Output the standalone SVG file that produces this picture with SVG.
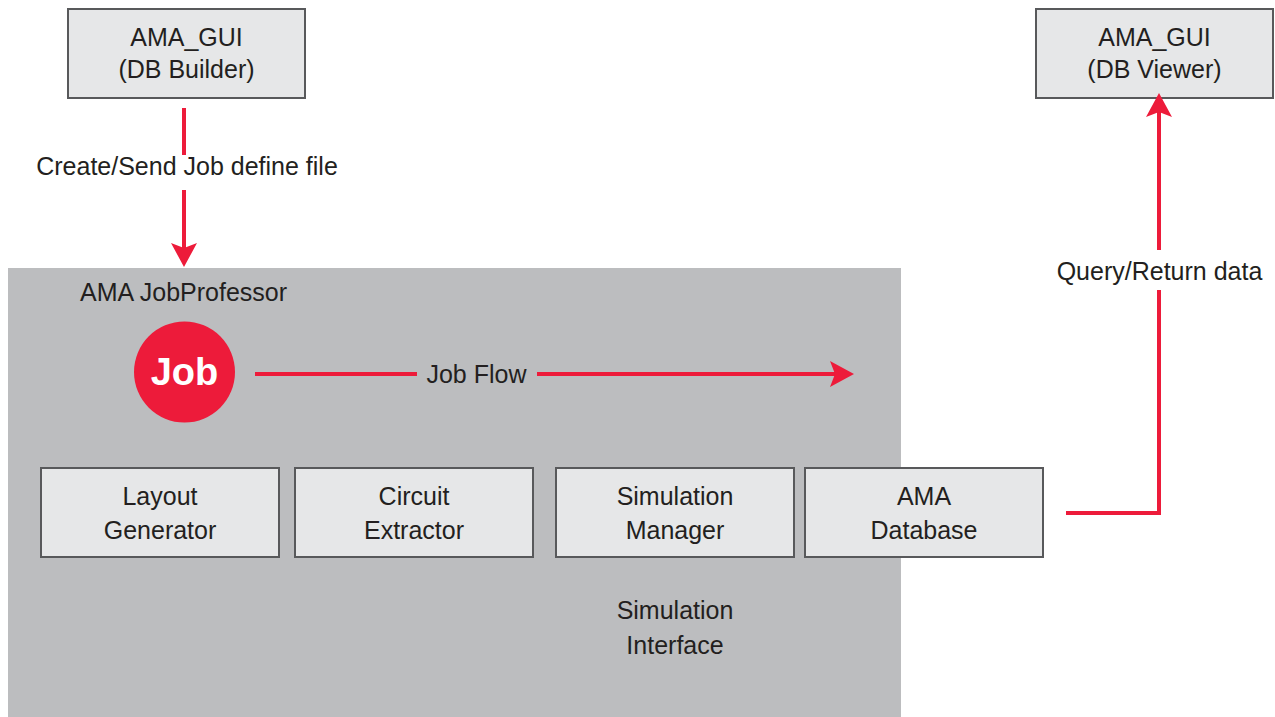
<svg xmlns="http://www.w3.org/2000/svg" width="1275" height="717" viewBox="0 0 1275 717">
<style>
.box{fill:#e6e7e8;stroke:#58595b;stroke-width:2}
.t{font-family:"Liberation Sans",Arial,sans-serif;font-size:25px;fill:#231f20;text-anchor:middle}
.c{fill:none;stroke:#ed1b3a;stroke-width:4}
</style>
<defs>
<marker id="ah" viewBox="0 -13 24 26" markerWidth="24" markerHeight="26" refX="5" refY="0" orient="auto" markerUnits="userSpaceOnUse">
<path d="M0,-13 L24,0 L0,13 L5,0 Z" fill="#ed1b3a"/>
</marker>
</defs>
<rect width="1275" height="717" fill="#ffffff"/>
<g id="jobprofessor">
<rect x="8" y="268" width="893" height="449" fill="#bcbdbf"/>
<text class="t" x="80" y="301" style="text-anchor:start">AMA JobProfessor</text>
</g>
<g id="db-builder">
<rect class="box" x="68" y="9" width="237" height="89"/>
<text class="t" x="186.5" y="46">AMA_GUI</text>
<text class="t" x="186.5" y="78">(DB Builder)</text>
</g>
<g id="db-viewer">
<rect class="box" x="1036" y="9" width="237" height="89"/>
<text class="t" x="1154.5" y="46">AMA_GUI</text>
<text class="t" x="1154.5" y="78">(DB Viewer)</text>
</g>
<g id="job">
<circle cx="184.5" cy="372" r="50.5" fill="#ed1b3a"/>
<text x="184.5" y="385" font-family="'Liberation Sans',Arial,sans-serif" font-size="38" font-weight="bold" fill="#ffffff" text-anchor="middle">Job</text>
</g>
<g id="layout-generator">
<rect class="box" x="41" y="468" width="238" height="89"/>
<text class="t" x="160" y="505">Layout</text>
<text class="t" x="160" y="539">Generator</text>
</g>
<g id="circuit-extractor">
<rect class="box" x="295" y="468" width="238" height="89"/>
<text class="t" x="414" y="505">Circuit</text>
<text class="t" x="414" y="539">Extractor</text>
</g>
<g id="simulation-manager">
<rect class="box" x="556" y="468" width="238" height="89"/>
<text class="t" x="675" y="505">Simulation</text>
<text class="t" x="675" y="539">Manager</text>
</g>
<g id="ama-database">
<rect class="box" x="805" y="468" width="238" height="89"/>
<text class="t" x="924" y="505">AMA</text>
<text class="t" x="924" y="539">Database</text>
</g>
<g id="simulation-interface">
<text class="t" x="675" y="619">Simulation</text>
<text class="t" x="675" y="654">Interface</text>
</g>
<g id="connectors">
<line class="c" x1="184" y1="108" x2="184" y2="155"/>
<line class="c" x1="184" y1="190" x2="184" y2="248" marker-end="url(#ah)"/>
<text class="t" x="187" y="175">Create/Send Job define file</text>
<line class="c" x1="255" y1="374" x2="417" y2="374"/>
<line class="c" x1="537" y1="374" x2="835" y2="374" marker-end="url(#ah)"/>
<text class="t" x="476.5" y="383">Job Flow</text>
<polyline class="c" points="1066,513 1159,513 1159,290"/>
<line class="c" x1="1159" y1="250" x2="1159" y2="112" marker-end="url(#ah)"/>
<text class="t" x="1159.5" y="280">Query/Return data</text>
</g>
</svg>
